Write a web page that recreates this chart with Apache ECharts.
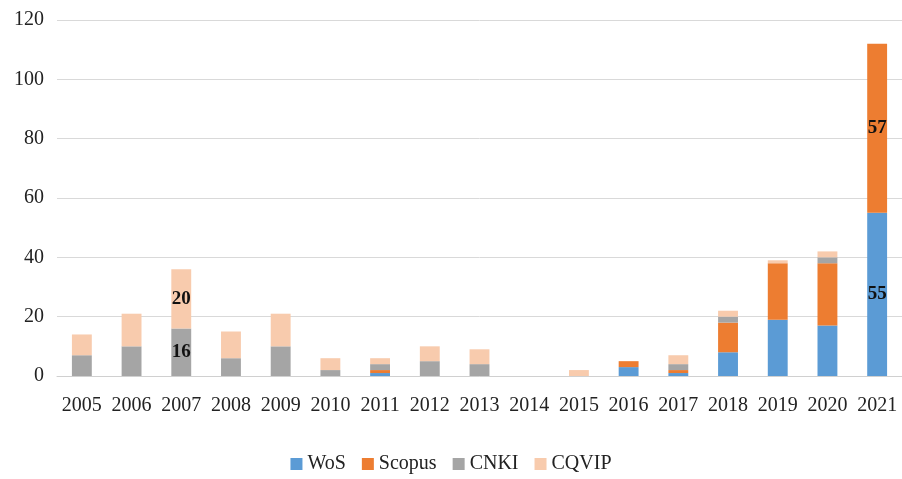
<!DOCTYPE html>
<html>
<head>
<meta charset="utf-8">
<script src="https://cdn.jsdelivr.net/npm/echarts@6/dist/echarts.min.js"></script>
<style>
  html, body { margin: 0; padding: 0; background: #fff; }
  #main { width: 902px; height: 479px; }
</style>
</head>
<body>
<div id="main"></div>
<script>
var years = ['2005','2006','2007','2008','2009','2010','2011','2012','2013','2014','2015','2016','2017','2018','2019','2020','2021'];
var wos    = [0, 0, 0, 0, 0, 0, 1, 0, 0, 0, 0, 3, 1, 8, 19, 17, 55];
var scopus = [0, 0, 0, 0, 0, 0, 1, 0, 0, 0, 0, 2, 1, 10, 19, 21, 57];
var cnki   = [7, 10, 16, 6, 10, 2, 2, 5, 4, 0, 0, 0, 2, 2, 0, 2, 0];
var cqvip  = [7, 11, 20, 9, 11, 4, 2, 5, 5, 0, 2, 0, 3, 2, 1, 2, 0];
var yTicks = [0, 20, 40, 60, 80, 100, 120];

// which bars carry a value label, per series
var labelled = {
    'WoS': ['2021'],
    'Scopus': ['2021'],
    'CNKI': ['2007'],
    'CQVIP': ['2007']
};

var serif = '"Liberation Serif", "DejaVu Serif", serif';

function makeData(name, values) {
    return values.map(function (v, i) {
        var item = { value: v };
        if (labelled[name].indexOf(years[i]) >= 0) {
            item.label = {
                show: true,
                position: 'inside',
                color: '#111',
                fontFamily: serif,
                fontWeight: 'bold',
                fontSize: 19
            };
        }
        return item;
    });
}

function bar(name, values, color) {
    return {
        name: name,
        type: 'bar',
        stack: 'total',
        barWidth: '40%',
        itemStyle: { color: color },
        data: makeData(name, values)
    };
}

var chart = echarts.init(document.getElementById('main'));

chart.setOption({
    animation: false,
    grid: {
        left: 57,
        top: 20,
        width: 850,
        bottom: 103
    },
    legend: {
        bottom: 0,
        left: 'center',
        itemWidth: 12,
        itemHeight: 12,
        itemGap: 16,
        icon: 'rect',
        textStyle: {
            fontFamily: serif,
            fontSize: 20,
            color: '#222'
        },
        data: ['WoS', 'Scopus', 'CNKI', 'CQVIP']
    },
    xAxis: {
        type: 'category',
        data: years,
        axisTick: { show: false },
        axisLine: { lineStyle: { color: '#d0d0d0' } },
        axisLabel: {
            color: '#222',
            fontFamily: serif,
            fontSize: 20,
            margin: 20,
            interval: 0
        }
    },
    yAxis: {
        type: 'value',
        min: yTicks[0],
        max: yTicks[yTicks.length - 1],
        interval: 20,
        axisLine: { show: false },
        axisTick: { show: false },
        splitLine: { lineStyle: { color: '#d9d9d9' } },
        axisLabel: {
            color: '#222',
            fontFamily: serif,
            fontSize: 20,
            margin: 13
        }
    },
    series: [
        bar('WoS', wos, '#5B9BD5'),
        bar('Scopus', scopus, '#ED7D31'),
        bar('CNKI', cnki, '#A5A5A5'),
        bar('CQVIP', cqvip, '#F8CBAD')
    ]
});
</script>
</body>
</html>
